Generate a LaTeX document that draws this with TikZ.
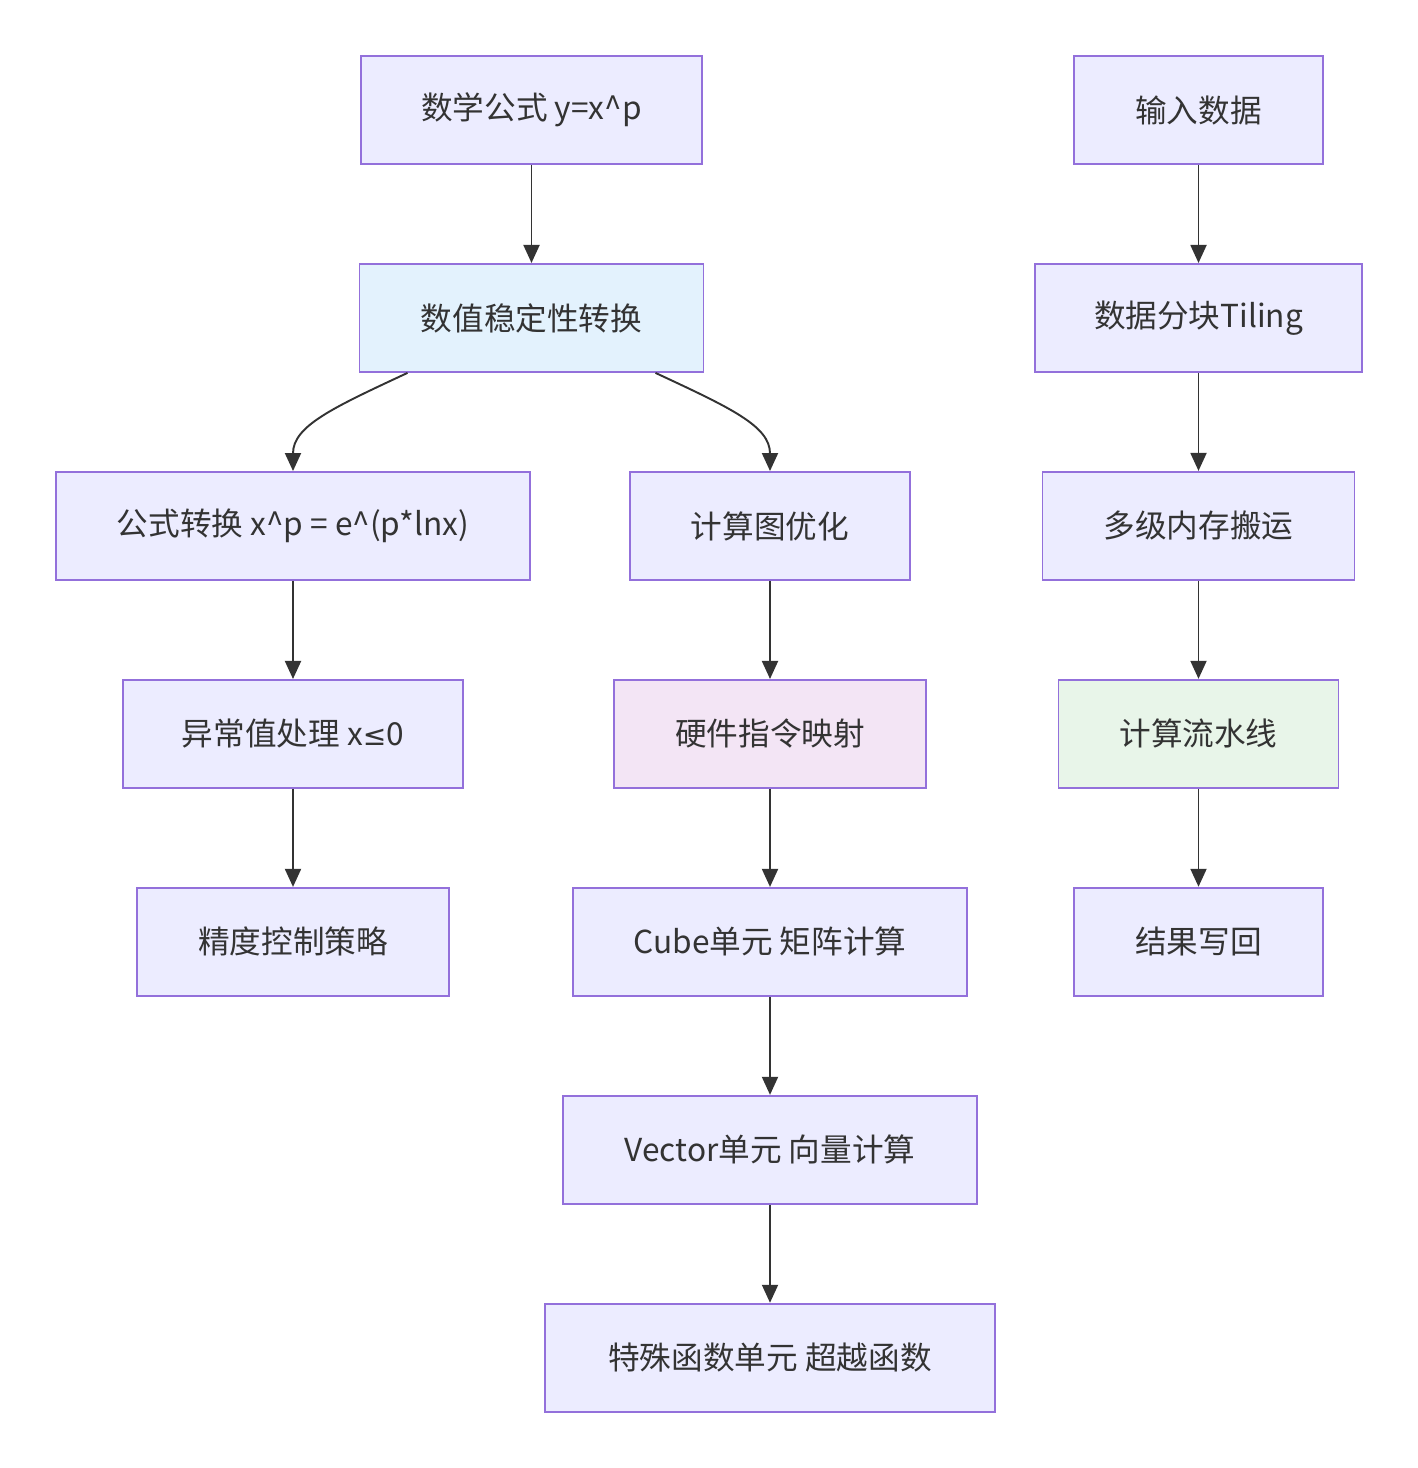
\documentclass[tikz,border=0pt]{standalone}
\usepackage{fontspec}
\setmainfont{Noto Sans CJK SC}
\newfontfamily\symfont{DejaVu Sans}
\usepackage{tikz}
\usetikzlibrary{arrows.meta,positioning}
\usepackage{xcolor}
\definecolor{cFill}{RGB}{236,236,255}
\definecolor{cStroke}{RGB}{147,112,219}
\definecolor{cText}{RGB}{51,51,51}
\definecolor{cBlue}{RGB}{227,242,253}
\definecolor{cPurple}{RGB}{243,229,245}
\definecolor{cGreen}{RGB}{232,245,233}
\definecolor{cLine}{RGB}{51,51,51}
\tikzset{
  basebox/.style={rectangle,draw=cStroke,line width=1.1pt,fill=cFill,
                  minimum height=2.16cm,inner sep=0pt,text=cText,
                  font=\fontsize{18pt}{22pt}\selectfont},
  bluenode/.style={basebox,fill=cBlue},
  purplenode/.style={basebox,fill=cPurple},
  greennode/.style={basebox,fill=cGreen},
  arr/.style={-{Triangle[length=0.36cm,width=0.32cm]},line width=1.1pt,color=cLine}
}

\begin{document}
\begin{tikzpicture}[node distance=1.96cm]

  \useasboundingbox (0,0) rectangle (28.34,-29.36);

  % formula column
  \node[basebox,minimum width=6.82cm] (formula) at (10.63,-2.2) {数学公式 y=x\^{}p};
  \node[bluenode,minimum width=6.88cm, below=of formula] (stable) {数值稳定性转换};

  \node[basebox,minimum width=9.48cm] (rewrite) at (5.86,-10.52)
      {公式转换 x\^{}p = e\^{}(p*lnx)};
  \node[basebox,minimum width=6.8cm, below=of rewrite] (outlier) {异常值处理 x{\symfont\fontsize{16pt}{22pt}\selectfont ≤}0};
  \node[basebox,minimum width=6.24cm, below=of outlier] (precision) {精度控制策略};

  % hardware column
  \node[basebox,minimum width=5.6cm] (graphopt) at (15.4,-10.52) {计算图优化};
  \node[purplenode,minimum width=6.24cm, below=of graphopt] (hwmap) {硬件指令映射};
  \node[basebox,minimum width=7.88cm, below=of hwmap] (cube) {Cube单元 矩阵计算};
  \node[basebox,minimum width=8.28cm, below=of cube] (vector) {Vector单元 向量计算};
  \node[basebox,minimum width=9.0cm, below=of vector] (special) {特殊函数单元 超越函数};

  % data flow column
  \node[basebox,minimum width=4.98cm] (input) at (23.97,-2.2) {输入数据};
  \node[basebox,minimum width=6.54cm, below=of input] (tiling) {数据分块Tiling};
  \node[basebox,minimum width=6.24cm, below=of tiling] (memmove) {多级内存搬运};
  \node[greennode,minimum width=5.6cm, below=of memmove] (pipeline) {计算流水线};
  \node[basebox,minimum width=4.98cm, below=of pipeline] (writeback) {结果写回};

  \draw[arr] (formula) -- (stable);
  \draw[arr] ([xshift=-2.48cm]stable.south) .. controls +(-1.5,-0.7) and +(0,0.9) .. (rewrite.north);
  \draw[arr] ([xshift=2.48cm]stable.south) .. controls +(1.5,-0.7) and +(0,0.9) .. (graphopt.north);
  \draw[arr] (rewrite) -- (outlier);
  \draw[arr] (outlier) -- (precision);
  \draw[arr] (graphopt) -- (hwmap);
  \draw[arr] (hwmap) -- (cube);
  \draw[arr] (cube) -- (vector);
  \draw[arr] (vector) -- (special);
  \draw[arr] (input) -- (tiling);
  \draw[arr] (tiling) -- (memmove);
  \draw[arr] (memmove) -- (pipeline);
  \draw[arr] (pipeline) -- (writeback);

\end{tikzpicture}
\end{document}
